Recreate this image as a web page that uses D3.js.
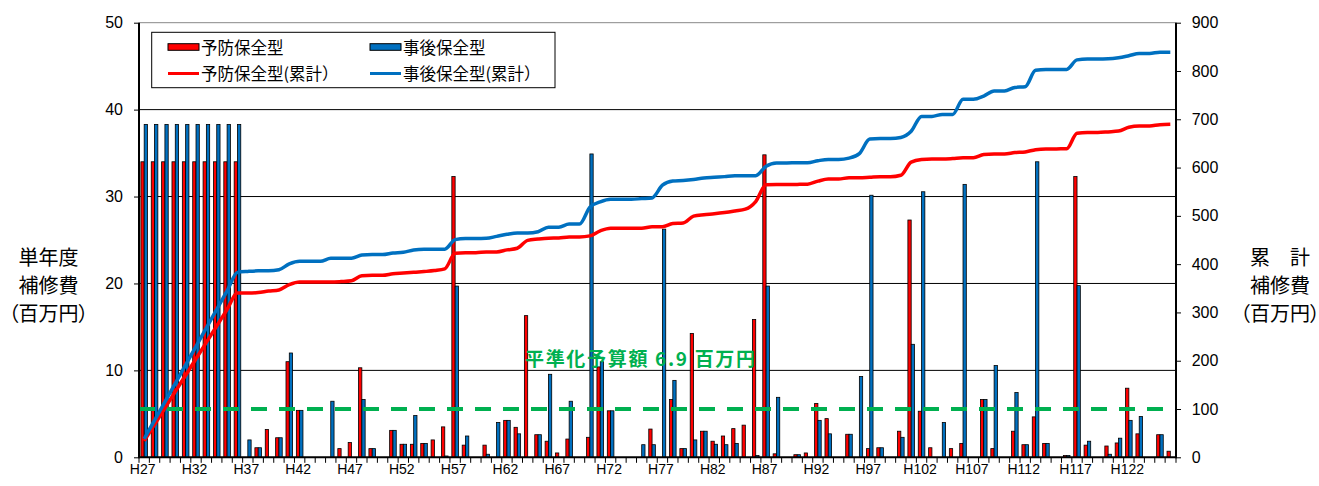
<!DOCTYPE html>
<html>
<head>
<meta charset="utf-8">
<script src="https://cdn.jsdelivr.net/npm/d3@7"></script>
<style>
body { margin: 0; background: #fff; }
text { font-family: "Liberation Sans", Arial, "Noto Sans CJK JP", sans-serif; }
.jp { font-family: "Noto Sans CJK JP", sans-serif; font-feature-settings: "palt"; }
</style>
</head>
<body>
<div id="chart"></div>
<script>

// categories (fiscal years)
var years = ['H27','H28','H29','H30','H31','H32','H33','H34','H35','H36',
	'H37','H38','H39','H40','H41','H42','H43','H44','H45','H46',
	'H47','H48','H49','H50','H51','H52','H53','H54','H55','H56',
	'H57','H58','H59','H60','H61','H62','H63','H64','H65','H66',
	'H67','H68','H69','H70','H71','H72','H73','H74','H75','H76',
	'H77','H78','H79','H80','H81','H82','H83','H84','H85','H86',
	'H87','H88','H89','H90','H91','H92','H93','H94','H95','H96',
	'H97','H98','H99','H100','H101','H102','H103','H104','H105','H106',
	'H107','H108','H109','H110','H111','H112','H113','H114','H115','H116',
	'H117','H118','H119','H120','H121','H122','H123','H124','H125','H126'];

// 予防保全型 (百万円 / year)
var yobou = [34, 34, 34, 34, 34, 34, 34, 34, 34, 34,
	0, 1.1, 3.2, 2.25, 11.0, 5.4, 0, 0, 0, 1.0,
	1.7, 10.3, 1.0, 0, 3.1, 1.5, 1.5, 1.6, 2.0, 3.5,
	32.3, 1.4, 0, 1.4, 0, 4.25, 3.45, 16.3, 2.6, 1.85,
	0.5, 2.1, 0, 2.3, 10.4, 5.35, 0, 0, 0, 3.25,
	0, 6.65, 1.0, 14.25, 3.0, 1.85, 2.45, 3.3, 3.7, 15.85,
	34.8, 0.4, 0, 0.3, 0.5, 6.2, 4.45, 0, 2.65, 0,
	1.0, 1.1, 0, 3.0, 27.3, 5.3, 1.1, 0, 1.0, 1.6,
	0, 6.65, 1.0, 0, 3.0, 1.45, 4.65, 1.6, 0, 0.2,
	32.3, 1.4, 0, 1.3, 1.65, 7.95, 2.7, 0, 2.6, 0.7];

// 事後保全型 (百万円 / year)
var jigo = [38.3, 38.3, 38.3, 38.3, 38.3, 38.3, 38.3, 38.3, 38.3, 38.3,
	2.0, 1.1, 0, 2.25, 12.0, 5.4, 0, 0, 6.45, 0,
	0, 6.65, 1.0, 0, 3.1, 1.5, 4.8, 1.6, 0, 0.15,
	19.7, 2.45, 0, 0.35, 4.0, 4.25, 2.7, 0, 2.6, 9.55,
	0, 6.45, 0, 34.9, 11.0, 5.35, 0, 0, 1.45, 1.45,
	26.25, 8.85, 1.0, 2.0, 3.0, 1.5, 1.45, 1.6, 0, 0.2,
	19.7, 6.9, 0, 0.3, 0, 4.25, 2.7, 0, 2.65, 9.3,
	30.15, 1.1, 0, 2.3, 13.0, 30.55, 0, 4.0, 0, 31.4,
	0, 6.65, 10.55, 0, 7.45, 1.45, 34.0, 1.6, 0, 0.2,
	19.75, 1.85, 0, 0.35, 2.2, 4.25, 4.7, 0, 2.6, 0];

var leftTicks = [0, 10, 20, 30, 40, 50];
var rightTicks = [0, 100, 200, 300, 400, 500, 600, 700, 800, 900];
var xLabels = ['H27','H32','H37','H42','H47','H52','H57','H62','H67','H72',
	'H77','H82','H87','H92','H97','H102','H107','H112','H117','H122'];

var seriesNames = ['予防保全型', '事後保全型', '予防保全型(累計）', '事後保全型(累計）'];
var levelText = '平準化予算額 6.9 百万円';
var levelCum = 100;

var RED = '#ff0000',
	BLUE = '#0070c0',
	GREEN = '#00b050';

var width = 1319,
	height = 486;

var plotLeft = 139,
	plotRight = 1176,
	plotTop = 22.7,
	plotBottom = 457.3;

var svg = d3.select('#chart')
	.append('svg')
	.attr('width', width)
	.attr('height', height);

var x = d3.scaleBand()
	.domain(years)
	.range([plotLeft, plotRight - 0.5]);

var y = d3.scaleLinear()
	.domain([0, 50])
	.range([plotBottom, plotTop]);

var y2 = d3.scaleLinear()
	.domain([0, 900])
	.range([plotBottom, plotTop]);

var bw = x.bandwidth(),
	barW = 3.3;

function cx(d) {
	return x(d) + bw / 2;
}

// grid
svg.append('g')
	.selectAll('line')
	.data(leftTicks.filter(d => d > 0))
	.enter()
	.append('line')
	.attr('x1', plotLeft)
	.attr('x2', plotRight)
	.attr('y1', d => y(d))
	.attr('y2', d => y(d))
	.style('stroke', d => d === 50 ? '#888' : '#000')
	.style('stroke-width', 1);

// bars
var bars = svg.append('g');

bars.selectAll('rect.yobou')
	.data(years.map((d, i) => ({ year: d, v: yobou[i] })).filter(d => d.v > 0))
	.enter()
	.append('rect')
	.classed('yobou', true)
	.attr('x', d => cx(d.year) - barW)
	.attr('y', d => y(d.v))
	.attr('width', barW)
	.attr('height', d => plotBottom - y(d.v))
	.style('fill', RED)
	.style('stroke', '#000')
	.style('stroke-width', 0.8);

bars.selectAll('rect.jigo')
	.data(years.map((d, i) => ({ year: d, v: jigo[i] })).filter(d => d.v > 0))
	.enter()
	.append('rect')
	.classed('jigo', true)
	.attr('x', d => cx(d.year))
	.attr('y', d => y(d.v))
	.attr('width', barW)
	.attr('height', d => plotBottom - y(d.v))
	.style('fill', BLUE)
	.style('stroke', '#000')
	.style('stroke-width', 0.8);

// levelling budget line
svg.append('line')
	.attr('x1', plotLeft)
	.attr('x2', plotRight)
	.attr('y1', y2(levelCum))
	.attr('y2', y2(levelCum))
	.style('stroke', GREEN)
	.style('stroke-width', 4)
	.style('stroke-dasharray', '16,12');

// cumulative lines
var yobouCum = Array.from(d3.cumsum(yobou)),
	jigoCum = Array.from(d3.cumsum(jigo));

var line = d3.line()
	.x((d, i) => cx(years[i]))
	.y(d => y2(d))
	.curve(d3.curveMonotoneX);

svg.append('path')
	.attr('d', line(yobouCum))
	.style('fill', 'none')
	.style('stroke', RED)
	.style('stroke-width', 3.5);

svg.append('path')
	.attr('d', line(jigoCum))
	.style('fill', 'none')
	.style('stroke', BLUE)
	.style('stroke-width', 3.5);

// level label
svg.append('text')
	.attr('x', 525)
	.attr('y', 366)
	.attr('textLength', 230)
	.attr('lengthAdjust', 'spacing')
	.style('font-family', '"Noto Sans CJK JP", sans-serif')
	.style('font-size', '19px')
	.style('font-weight', 'bold')
	.style('fill', GREEN)
	.text(levelText);

// axes
var yAxis = svg.append('g')
	.attr('transform', 'translate(' + plotLeft + ',0)')
	.call(d3.axisLeft(y).tickValues(leftTicks).tickSize(5).tickSizeOuter(0).tickPadding(11));

var y2Axis = svg.append('g')
	.attr('transform', 'translate(' + plotRight + ',0)')
	.call(d3.axisRight(y2).tickValues(rightTicks).tickSize(5).tickSizeOuter(0).tickPadding(10.7));

var xAxis = svg.append('g')
	.attr('transform', 'translate(-1.5,' + plotBottom + ')')
	.call(d3.axisBottom(x).tickValues(xLabels).tickSize(0).tickPadding(6.7));

[yAxis, y2Axis, xAxis].forEach(function(a) {
	a.select('.domain').remove();
	a.selectAll('text')
		.style('font-family', '"Liberation Sans", Arial, sans-serif')
		.style('fill', '#000');
	a.selectAll('line')
		.style('stroke', '#000');
});
yAxis.selectAll('text').style('font-size', '16px');
y2Axis.selectAll('text').style('font-size', '16px');
xAxis.selectAll('text').style('font-size', '14px');

// category boundary ticks
svg.append('g')
	.selectAll('line')
	.data(years.map(d => x(d)).concat([plotRight]))
	.enter()
	.append('line')
	.attr('x1', d => d)
	.attr('x2', d => d)
	.attr('y1', plotBottom)
	.attr('y2', plotBottom + 5.5)
	.style('stroke', '#000')
	.style('stroke-width', 1);

// axis lines
svg.append('line')
	.attr('x1', plotLeft).attr('x2', plotLeft)
	.attr('y1', plotTop).attr('y2', plotBottom + 1)
	.style('stroke', '#000').style('stroke-width', 2);
svg.append('line')
	.attr('x1', plotRight).attr('x2', plotRight)
	.attr('y1', plotTop).attr('y2', plotBottom + 1)
	.style('stroke', '#000').style('stroke-width', 2);
svg.append('line')
	.attr('x1', plotLeft).attr('x2', plotRight)
	.attr('y1', plotBottom).attr('y2', plotBottom)
	.style('stroke', '#000').style('stroke-width', 2);

// axis titles
function title(xPos, lines) {
	var t = svg.append('text')
		.classed('jp', true)
		.attr('text-anchor', 'middle')
		.style('font-size', '20px')
		.style('fill', '#000');
	lines.forEach(function(s, i) {
		t.append('tspan')
			.attr('x', xPos)
			.attr('y', 264.5 + i * 28)
			.text(s);
	});
}
title(48.5, ['単年度', '補修費', '（百万円）']);
title(1280, ['累　計', '補修費', '（百万円）']);

// legend
var legend = svg.append('g');

legend.append('rect')
	.attr('x', 151.7)
	.attr('y', 32.3)
	.attr('width', 403.3)
	.attr('height', 55.4)
	.style('fill', '#fff')
	.style('stroke', '#000')
	.style('stroke-width', 1);

var legendItems = [
	{ name: seriesNames[0], color: RED, kind: 'bar', lx: 168, ly: 47 },
	{ name: seriesNames[1], color: BLUE, kind: 'bar', lx: 370, ly: 47 },
	{ name: seriesNames[2], color: RED, kind: 'line', lx: 168, ly: 73.5 },
	{ name: seriesNames[3], color: BLUE, kind: 'line', lx: 370, ly: 73.5 }
];

legendItems.forEach(function(d) {
	if (d.kind === 'bar') {
		legend.append('rect')
			.attr('x', d.lx)
			.attr('y', d.ly - 3.3)
			.attr('width', 31)
			.attr('height', 6.6)
			.style('fill', d.color)
			.style('stroke', '#000')
			.style('stroke-width', 1);
	} else {
		legend.append('line')
			.attr('x1', d.lx)
			.attr('x2', d.lx + 31)
			.attr('y1', d.ly)
			.attr('y2', d.ly)
			.style('stroke', d.color)
			.style('stroke-width', 3);
	}
	legend.append('text')
		.attr('x', d.lx + 33)
		.attr('y', d.ly + 6.5)
		.style('font-family', '"Noto Sans CJK JP", sans-serif')
		.style('font-size', '16.5px')
		.style('fill', '#000')
		.text(d.name);
});

</script>
</body>
</html>
